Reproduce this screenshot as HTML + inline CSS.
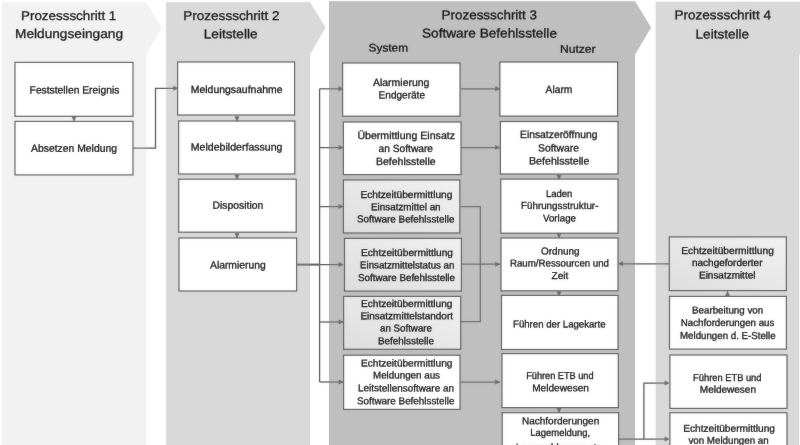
<!DOCTYPE html>
<html><head><meta charset="utf-8"><title>Prozess</title>
<style>
html,body{margin:0;padding:0;background:#fff;}
body{width:800px;height:445px;overflow:hidden;}
svg{display:block;font-family:"Liberation Sans",sans-serif;}
</style></head><body>
<svg width="800" height="445" viewBox="0 0 800 445">
<defs><filter id="bl" x="-2%" y="-2%" width="104%" height="104%"><feGaussianBlur stdDeviation="0.8"/></filter><linearGradient id="sh" x1="0" y1="1" x2="1" y2="0"><stop offset="0" stop-color="#dedede"/><stop offset="1" stop-color="#f1f1f1"/></linearGradient></defs>
<rect width="800" height="445" fill="#ffffff"/>
<g id="c" opacity="0.9999">
<path d="M2,2.5 L146.3,2.5 L162,27.6 L146.3,54.5 L146.3,455 L2,455 Z" fill="#f2f2f2"/>
<path d="M166.2,2.2 L310,2.2 L325.5,27.6 L310,54.5 L310,455 L166.2,455 Z" fill="#d9d9d9"/>
<path d="M329,1.2 L635,1.2 L651,27.6 L635,54.5 L635,455 L329,455 Z" fill="#bfbfbf"/>
<path d="M655.7,1.7 L810,1.7 L810,54.5 L799.1,54.5 L799.1,455 L655.7,455 Z" fill="#d9d9d9"/>
<path d="M133,148 L155.5,148 L155.5,88.3 L178,88.3" fill="none" stroke="#6c6c6c" stroke-width="1.25"/>
<polygon points="178.3,88.3 173.3,85.8 173.3,90.8" fill="#6c6c6c"/>
<path d="M319.6,88.8 L319.6,382" fill="none" stroke="#6c6c6c" stroke-width="1.25"/>
<path d="M319.6,88.8 L343,88.8" fill="none" stroke="#6c6c6c" stroke-width="1.25"/>
<polygon points="343.6,88.8 338.6,86.3 338.6,91.3" fill="#6c6c6c"/>
<path d="M319.6,147.6 L343,147.6" fill="none" stroke="#6c6c6c" stroke-width="1.25"/>
<polygon points="343.6,147.6 338.6,145.1 338.6,150.1" fill="#6c6c6c"/>
<path d="M319.6,206.6 L343,206.6" fill="none" stroke="#6c6c6c" stroke-width="1.25"/>
<polygon points="343.6,206.6 338.6,204.1 338.6,209.1" fill="#6c6c6c"/>
<path d="M319.6,264.6 L343,264.6" fill="none" stroke="#6c6c6c" stroke-width="1.25"/>
<polygon points="343.6,264.6 338.6,262.1 338.6,267.1" fill="#6c6c6c"/>
<path d="M319.6,322 L343,322" fill="none" stroke="#6c6c6c" stroke-width="1.25"/>
<polygon points="343.6,322 338.6,319.5 338.6,324.5" fill="#6c6c6c"/>
<path d="M319.6,382 L343,382" fill="none" stroke="#6c6c6c" stroke-width="1.25"/>
<polygon points="343.6,382 338.6,379.5 338.6,384.5" fill="#6c6c6c"/>
<path d="M296.4,264.6 L319.6,264.6" stroke="#6a6a6a" stroke-width="2" fill="none"/>
<path d="M461,88.8 L500,88.8" fill="none" stroke="#6c6c6c" stroke-width="1.25"/>
<polygon points="500.2,88.8 495.2,86.3 495.2,91.3" fill="#6c6c6c"/>
<path d="M461,147.6 L500,147.6" fill="none" stroke="#6c6c6c" stroke-width="1.25"/>
<polygon points="500.2,147.6 495.2,145.1 495.2,150.1" fill="#6c6c6c"/>
<path d="M461,206.6 L480.3,206.6 L480.3,321.6 L461,321.6" fill="none" stroke="#6c6c6c" stroke-width="1.25"/>
<path d="M461,264.2 L500,264.2" fill="none" stroke="#6c6c6c" stroke-width="1.25"/>
<polygon points="500.2,264.2 495.2,261.7 495.2,266.7" fill="#6c6c6c"/>
<path d="M461,382 L500,382" fill="none" stroke="#6c6c6c" stroke-width="1.25"/>
<polygon points="500.2,382 495.2,379.5 495.2,384.5" fill="#6c6c6c"/>
<path d="M669,263.8 L619,263.8" fill="none" stroke="#6c6c6c" stroke-width="1.25"/>
<polygon points="618,263.8 623,261.3 623,266.3" fill="#6c6c6c"/>
<path d="M618,439.1 L668,439.1" fill="none" stroke="#6c6c6c" stroke-width="1.25"/>
<polygon points="669.6,439.1 664.6,436.6 664.6,441.6" fill="#6c6c6c"/>
<path d="M643.9,439.1 L643.9,383 L668,383" fill="none" stroke="#6c6c6c" stroke-width="1.25"/>
<polygon points="669.6,383 664.6,380.5 664.6,385.5" fill="#6c6c6c"/>
<path d="M74,115.7 L74,121.2" fill="none" stroke="#6c6c6c" stroke-width="1.25"/>
<polygon points="74,121.5 71.5,116.5 76.5,116.5" fill="#6c6c6c"/>
<path d="M237,115.7 L237,121.2" fill="none" stroke="#6c6c6c" stroke-width="1.25"/>
<polygon points="237,121.5 234.5,116.5 239.5,116.5" fill="#6c6c6c"/>
<path d="M237,174.4 L237,179.6" fill="none" stroke="#6c6c6c" stroke-width="1.25"/>
<polygon points="237,179.9 234.5,174.9 239.5,174.9" fill="#6c6c6c"/>
<path d="M237,232.8 L237,238" fill="none" stroke="#6c6c6c" stroke-width="1.25"/>
<polygon points="237,238.3 234.5,233.3 239.5,233.3" fill="#6c6c6c"/>
<path d="M559,174.4 L559,179.6" fill="none" stroke="#6c6c6c" stroke-width="1.25"/>
<polygon points="559,179.9 556.5,174.9 561.5,174.9" fill="#6c6c6c"/>
<path d="M559,232.8 L559,238" fill="none" stroke="#6c6c6c" stroke-width="1.25"/>
<polygon points="559,238.3 556.5,233.3 561.5,233.3" fill="#6c6c6c"/>
<path d="M559,291.2 L559,296.2" fill="none" stroke="#6c6c6c" stroke-width="1.25"/>
<polygon points="559,296.5 556.5,291.5 561.5,291.5" fill="#6c6c6c"/>
<path d="M559,408.2 L559,412.8" fill="none" stroke="#6c6c6c" stroke-width="1.25"/>
<polygon points="559,413.1 556.5,408.1 561.5,408.1" fill="#6c6c6c"/>
<path d="M727.5,296.2 L727.5,291.2" fill="none" stroke="#6c6c6c" stroke-width="1.25"/>
<polygon points="727.5,290.9 725.0,295.9 730.0,295.9" fill="#6c6c6c"/>
<rect x="15" y="62.4" width="118" height="53.9" fill="#ffffff" stroke="#5e5e5e" stroke-width="1.2"/>
<rect x="15" y="121.4" width="118" height="53.5" fill="#ffffff" stroke="#5e5e5e" stroke-width="1.2"/>
<rect x="177.6" y="62" width="117.0" height="53" fill="#ffffff" stroke="#5e5e5e" stroke-width="1.2"/>
<rect x="178.6" y="121" width="116.2" height="53" fill="#ffffff" stroke="#5e5e5e" stroke-width="1.2"/>
<rect x="178.7" y="179.2" width="117.5" height="53.0" fill="#ffffff" stroke="#5e5e5e" stroke-width="1.2"/>
<rect x="179" y="238" width="117.6" height="53" fill="#ffffff" stroke="#5e5e5e" stroke-width="1.2"/>
<rect x="342.6" y="63" width="117.4" height="53.2" fill="#ffffff" stroke="#5e5e5e" stroke-width="1.2"/>
<rect x="343.4" y="122" width="117.6" height="52.6" fill="#ffffff" stroke="#5e5e5e" stroke-width="1.2"/>
<rect x="343.4" y="180" width="116.4" height="53" fill="url(#sh)" stroke="#5e5e5e" stroke-width="1.2"/>
<rect x="344.5" y="238.4" width="116.9" height="52.7" fill="url(#sh)" stroke="#5e5e5e" stroke-width="1.2"/>
<rect x="343.6" y="296.4" width="117.1" height="52.9" fill="url(#sh)" stroke="#5e5e5e" stroke-width="1.2"/>
<rect x="343.6" y="355.2" width="116.4" height="54.2" fill="#ffffff" stroke="#5e5e5e" stroke-width="1.2"/>
<rect x="499.9" y="62" width="117.7" height="54.1" fill="#ffffff" stroke="#5e5e5e" stroke-width="1.2"/>
<rect x="500.4" y="121.5" width="117.6" height="52.5" fill="#ffffff" stroke="#5e5e5e" stroke-width="1.2"/>
<rect x="500.8" y="179.1" width="117.2" height="54.1" fill="#ffffff" stroke="#5e5e5e" stroke-width="1.2"/>
<rect x="501" y="238" width="117" height="52.8" fill="#ffffff" stroke="#5e5e5e" stroke-width="1.2"/>
<rect x="501.5" y="295.4" width="116.5" height="54.1" fill="#ffffff" stroke="#5e5e5e" stroke-width="1.2"/>
<rect x="502" y="353.6" width="116.3" height="54.0" fill="#ffffff" stroke="#5e5e5e" stroke-width="1.2"/>
<rect x="502.2" y="412.7" width="116.4" height="57.3" fill="#ffffff" stroke="#5e5e5e" stroke-width="1.2"/>
<rect x="669.3" y="236.9" width="117.1" height="53.7" fill="url(#sh)" stroke="#5e5e5e" stroke-width="1.2"/>
<rect x="669.5" y="296.4" width="116.9" height="52.7" fill="#ffffff" stroke="#5e5e5e" stroke-width="1.2"/>
<rect x="669.9" y="355" width="117.1" height="53.4" fill="#ffffff" stroke="#5e5e5e" stroke-width="1.2"/>
<rect x="669.9" y="412.7" width="117.1" height="57.3" fill="#ffffff" stroke="#5e5e5e" stroke-width="1.2"/>
<text x="68.65" y="20" font-size="12.8" fill="#0a0a0a" stroke="#0a0a0a" stroke-width="0.3" text-anchor="middle" transform="rotate(0.03 68.65 20)" textLength="95.3" lengthAdjust="spacingAndGlyphs">Prozessschritt 1</text>
<text x="69.0" y="38" font-size="12.8" fill="#0a0a0a" stroke="#0a0a0a" stroke-width="0.3" text-anchor="middle" transform="rotate(0.03 69.0 38)" textLength="108" lengthAdjust="spacingAndGlyphs">Meldungseingang</text>
<text x="231.4" y="20" font-size="12.8" fill="#0a0a0a" stroke="#0a0a0a" stroke-width="0.3" text-anchor="middle" transform="rotate(0.03 231.4 20)" textLength="96.2" lengthAdjust="spacingAndGlyphs">Prozessschritt 2</text>
<text x="230.65" y="38.2" font-size="12.8" fill="#0a0a0a" stroke="#0a0a0a" stroke-width="0.3" text-anchor="middle" transform="rotate(0.03 230.65 38.2)" textLength="53.7" lengthAdjust="spacingAndGlyphs">Leitstelle</text>
<text x="489.3" y="19.2" font-size="12.8" fill="#0a0a0a" stroke="#0a0a0a" stroke-width="0.3" text-anchor="middle" transform="rotate(0.03 489.3 19.2)" textLength="95.4" lengthAdjust="spacingAndGlyphs">Prozessschritt 3</text>
<text x="489.5" y="37.6" font-size="12.8" fill="#0a0a0a" stroke="#0a0a0a" stroke-width="0.3" text-anchor="middle" transform="rotate(0.03 489.5 37.6)" textLength="135" lengthAdjust="spacingAndGlyphs">Software Befehlsstelle</text>
<text x="722.7" y="19.3" font-size="12.8" fill="#0a0a0a" stroke="#0a0a0a" stroke-width="0.3" text-anchor="middle" transform="rotate(0.03 722.7 19.3)" textLength="96.6" lengthAdjust="spacingAndGlyphs">Prozessschritt 4</text>
<text x="722.3" y="38.4" font-size="12.8" fill="#0a0a0a" stroke="#0a0a0a" stroke-width="0.3" text-anchor="middle" transform="rotate(0.03 722.3 38.4)" textLength="53.4" lengthAdjust="spacingAndGlyphs">Leitstelle</text>
<text x="388.3" y="51.6" font-size="11.1" fill="#0a0a0a" stroke="#0a0a0a" stroke-width="0.3" text-anchor="middle" transform="rotate(0.03 388.3 51.6)" textLength="39.4" lengthAdjust="spacingAndGlyphs">System</text>
<text x="577.8" y="52.7" font-size="11.1" fill="#0a0a0a" stroke="#0a0a0a" stroke-width="0.3" text-anchor="middle" transform="rotate(0.03 577.8 52.7)" textLength="35.6" lengthAdjust="spacingAndGlyphs">Nutzer</text>
<text x="74.5" y="93.6" font-size="10.5" fill="#0a0a0a" stroke="#0a0a0a" stroke-width="0.3" text-anchor="middle" transform="rotate(0.03 74.5 93.6)" textLength="89.8" lengthAdjust="spacingAndGlyphs">Feststellen Ereignis</text>
<text x="74.0" y="151.8" font-size="10.5" fill="#0a0a0a" stroke="#0a0a0a" stroke-width="0.3" text-anchor="middle" transform="rotate(0.03 74.0 151.8)" textLength="86" lengthAdjust="spacingAndGlyphs">Absetzen Meldung</text>
<text x="236.65" y="93.0" font-size="10.5" fill="#0a0a0a" stroke="#0a0a0a" stroke-width="0.3" text-anchor="middle" transform="rotate(0.03 236.65 93.0)" textLength="91.7" lengthAdjust="spacingAndGlyphs">Meldungsaufnahme</text>
<text x="236.65" y="150.5" font-size="10.5" fill="#0a0a0a" stroke="#0a0a0a" stroke-width="0.3" text-anchor="middle" transform="rotate(0.03 236.65 150.5)" textLength="91.7" lengthAdjust="spacingAndGlyphs">Meldebilderfassung</text>
<text x="237.9" y="208.8" font-size="10.5" fill="#0a0a0a" stroke="#0a0a0a" stroke-width="0.3" text-anchor="middle" transform="rotate(0.03 237.9 208.8)" textLength="50.8" lengthAdjust="spacingAndGlyphs">Disposition</text>
<text x="237.85" y="268.5" font-size="10.5" fill="#0a0a0a" stroke="#0a0a0a" stroke-width="0.3" text-anchor="middle" transform="rotate(0.03 237.85 268.5)" textLength="55.7" lengthAdjust="spacingAndGlyphs">Alarmierung</text>
<text x="401.2" y="86.0" font-size="10.5" fill="#0a0a0a" stroke="#0a0a0a" stroke-width="0.3" text-anchor="middle" transform="rotate(0.03 401.2 86.0)" textLength="56.4" lengthAdjust="spacingAndGlyphs">Alarmierung</text>
<text x="401.8" y="98.4" font-size="10.5" fill="#0a0a0a" stroke="#0a0a0a" stroke-width="0.3" text-anchor="middle" transform="rotate(0.03 401.8 98.4)" textLength="46.4" lengthAdjust="spacingAndGlyphs">Endgeräte</text>
<text x="406.2" y="139.0" font-size="10.5" fill="#0a0a0a" stroke="#0a0a0a" stroke-width="0.3" text-anchor="middle" transform="rotate(0.03 406.2 139.0)" textLength="97.6" lengthAdjust="spacingAndGlyphs">Übermittlung Einsatz</text>
<text x="405.8" y="152.0" font-size="10.5" fill="#0a0a0a" stroke="#0a0a0a" stroke-width="0.3" text-anchor="middle" transform="rotate(0.03 405.8 152.0)" textLength="54.4" lengthAdjust="spacingAndGlyphs">an Software</text>
<text x="405.8" y="165.0" font-size="10.5" fill="#0a0a0a" stroke="#0a0a0a" stroke-width="0.3" text-anchor="middle" transform="rotate(0.03 405.8 165.0)" textLength="59.6" lengthAdjust="spacingAndGlyphs">Befehlsstelle</text>
<text x="406.4" y="198.0" font-size="10.0" fill="#0a0a0a" stroke="#0a0a0a" stroke-width="0.3" text-anchor="middle" transform="rotate(0.03 406.4 198.0)" textLength="92.0" lengthAdjust="spacingAndGlyphs">Echtzeitübermittlung</text>
<text x="405.8" y="210.2" font-size="10.0" fill="#0a0a0a" stroke="#0a0a0a" stroke-width="0.3" text-anchor="middle" transform="rotate(0.03 405.8 210.2)" textLength="69.6" lengthAdjust="spacingAndGlyphs">Einsatzmittel an</text>
<text x="405.7" y="222.4" font-size="10.0" fill="#0a0a0a" stroke="#0a0a0a" stroke-width="0.3" text-anchor="middle" transform="rotate(0.03 405.7 222.4)" textLength="97.4" lengthAdjust="spacingAndGlyphs">Software Befehlsstelle</text>
<text x="407.0" y="256.0" font-size="10.0" fill="#0a0a0a" stroke="#0a0a0a" stroke-width="0.3" text-anchor="middle" transform="rotate(0.03 407.0 256.0)" textLength="92" lengthAdjust="spacingAndGlyphs">Echtzeitübermittlung</text>
<text x="407.2" y="268.4" font-size="10.0" fill="#0a0a0a" stroke="#0a0a0a" stroke-width="0.3" text-anchor="middle" transform="rotate(0.03 407.2 268.4)" textLength="94.4" lengthAdjust="spacingAndGlyphs">Einsatzmittelstatus an</text>
<text x="406.5" y="281.0" font-size="10.0" fill="#0a0a0a" stroke="#0a0a0a" stroke-width="0.3" text-anchor="middle" transform="rotate(0.03 406.5 281.0)" textLength="97" lengthAdjust="spacingAndGlyphs">Software Befehlsstelle</text>
<text x="406.7" y="307.0" font-size="10.0" fill="#0a0a0a" stroke="#0a0a0a" stroke-width="0.3" text-anchor="middle" transform="rotate(0.03 406.7 307.0)" textLength="91.4" lengthAdjust="spacingAndGlyphs">Echtzeitübermittlung</text>
<text x="406.7" y="319.2" font-size="10.0" fill="#0a0a0a" stroke="#0a0a0a" stroke-width="0.3" text-anchor="middle" transform="rotate(0.03 406.7 319.2)" textLength="92.6" lengthAdjust="spacingAndGlyphs">Einsatzmittelstandort</text>
<text x="406.0" y="331.6" font-size="10.0" fill="#0a0a0a" stroke="#0a0a0a" stroke-width="0.3" text-anchor="middle" transform="rotate(0.03 406.0 331.6)" textLength="52" lengthAdjust="spacingAndGlyphs">an Software</text>
<text x="406.0" y="344.2" font-size="10.0" fill="#0a0a0a" stroke="#0a0a0a" stroke-width="0.3" text-anchor="middle" transform="rotate(0.03 406.0 344.2)" textLength="56" lengthAdjust="spacingAndGlyphs">Befehlsstelle</text>
<text x="406.7" y="366.6" font-size="10.0" fill="#0a0a0a" stroke="#0a0a0a" stroke-width="0.3" text-anchor="middle" transform="rotate(0.03 406.7 366.6)" textLength="91.4" lengthAdjust="spacingAndGlyphs">Echtzeitübermittlung</text>
<text x="406.5" y="378.6" font-size="10.0" fill="#0a0a0a" stroke="#0a0a0a" stroke-width="0.3" text-anchor="middle" transform="rotate(0.03 406.5 378.6)" textLength="67" lengthAdjust="spacingAndGlyphs">Meldungen aus</text>
<text x="406.0" y="391.4" font-size="10.0" fill="#0a0a0a" stroke="#0a0a0a" stroke-width="0.3" text-anchor="middle" transform="rotate(0.03 406.0 391.4)" textLength="96" lengthAdjust="spacingAndGlyphs">Leitstellensoftware an</text>
<text x="405.7" y="404.2" font-size="10.0" fill="#0a0a0a" stroke="#0a0a0a" stroke-width="0.3" text-anchor="middle" transform="rotate(0.03 405.7 404.2)" textLength="97.4" lengthAdjust="spacingAndGlyphs">Software Befehlsstelle</text>
<text x="559.0" y="93.0" font-size="10.5" fill="#0a0a0a" stroke="#0a0a0a" stroke-width="0.3" text-anchor="middle" transform="rotate(0.03 559.0 93.0)" textLength="26.8" lengthAdjust="spacingAndGlyphs">Alarm</text>
<text x="558.7" y="138.0" font-size="10.5" fill="#0a0a0a" stroke="#0a0a0a" stroke-width="0.3" text-anchor="middle" transform="rotate(0.03 558.7 138.0)" textLength="77.4" lengthAdjust="spacingAndGlyphs">Einsatzeröffnung</text>
<text x="558.5" y="151.4" font-size="10.5" fill="#0a0a0a" stroke="#0a0a0a" stroke-width="0.3" text-anchor="middle" transform="rotate(0.03 558.5 151.4)" textLength="41" lengthAdjust="spacingAndGlyphs">Software</text>
<text x="559.2" y="164.4" font-size="10.5" fill="#0a0a0a" stroke="#0a0a0a" stroke-width="0.3" text-anchor="middle" transform="rotate(0.03 559.2 164.4)" textLength="60.4" lengthAdjust="spacingAndGlyphs">Befehlsstelle</text>
<text x="559.2" y="197.0" font-size="10.0" fill="#0a0a0a" stroke="#0a0a0a" stroke-width="0.3" text-anchor="middle" transform="rotate(0.03 559.2 197.0)" textLength="26.4" lengthAdjust="spacingAndGlyphs">Laden</text>
<text x="559.7" y="208.9" font-size="10.0" fill="#0a0a0a" stroke="#0a0a0a" stroke-width="0.3" text-anchor="middle" transform="rotate(0.03 559.7 208.9)" textLength="77.4" lengthAdjust="spacingAndGlyphs">Führungsstruktur-</text>
<text x="559.5" y="221.6" font-size="10.0" fill="#0a0a0a" stroke="#0a0a0a" stroke-width="0.3" text-anchor="middle" transform="rotate(0.03 559.5 221.6)" textLength="33" lengthAdjust="spacingAndGlyphs">Vorlage</text>
<text x="560.3" y="254.4" font-size="10.0" fill="#0a0a0a" stroke="#0a0a0a" stroke-width="0.3" text-anchor="middle" transform="rotate(0.03 560.3 254.4)" textLength="38.6" lengthAdjust="spacingAndGlyphs">Ordnung</text>
<text x="559.5" y="266.6" font-size="10.0" fill="#0a0a0a" stroke="#0a0a0a" stroke-width="0.3" text-anchor="middle" transform="rotate(0.03 559.5 266.6)" textLength="99" lengthAdjust="spacingAndGlyphs">Raum/Ressourcen und</text>
<text x="560.0" y="279.0" font-size="10.0" fill="#0a0a0a" stroke="#0a0a0a" stroke-width="0.3" text-anchor="middle" transform="rotate(0.03 560.0 279.0)" textLength="16.8" lengthAdjust="spacingAndGlyphs">Zeit</text>
<text x="559.3" y="327.4" font-size="10.0" fill="#0a0a0a" stroke="#0a0a0a" stroke-width="0.3" text-anchor="middle" transform="rotate(0.03 559.3 327.4)" textLength="92.6" lengthAdjust="spacingAndGlyphs">Führen der Lagekarte</text>
<text x="559.9000000000001" y="379.0" font-size="10.0" fill="#0a0a0a" stroke="#0a0a0a" stroke-width="0.3" text-anchor="middle" transform="rotate(0.03 559.9000000000001 379.0)" textLength="67.4" lengthAdjust="spacingAndGlyphs">Führen ETB und</text>
<text x="560.6" y="391.2" font-size="10.0" fill="#0a0a0a" stroke="#0a0a0a" stroke-width="0.3" text-anchor="middle" transform="rotate(0.03 560.6 391.2)" textLength="56.8" lengthAdjust="spacingAndGlyphs">Meldewesen</text>
<text x="560.6" y="424.2" font-size="10.0" fill="#0a0a0a" stroke="#0a0a0a" stroke-width="0.3" text-anchor="middle" transform="rotate(0.03 560.6 424.2)" textLength="77.2" lengthAdjust="spacingAndGlyphs">Nachforderungen</text>
<text x="560.2" y="435.9" font-size="10.0" fill="#0a0a0a" stroke="#0a0a0a" stroke-width="0.3" text-anchor="middle" transform="rotate(0.03 560.2 435.9)" textLength="60.0" lengthAdjust="spacingAndGlyphs">Lagemeldung,</text>
<text x="560.0" y="450.6" font-size="10.0" fill="#0a0a0a" stroke="#0a0a0a" stroke-width="0.3" text-anchor="middle" transform="rotate(0.03 560.0 450.6)" textLength="88" lengthAdjust="spacingAndGlyphs">Lagemeldungen etc.</text>
<text x="727.5999999999999" y="254.0" font-size="10.0" fill="#0a0a0a" stroke="#0a0a0a" stroke-width="0.3" text-anchor="middle" transform="rotate(0.03 727.5999999999999 254.0)" textLength="92.6" lengthAdjust="spacingAndGlyphs">Echtzeitübermittlung</text>
<text x="727.25" y="266.0" font-size="10.0" fill="#0a0a0a" stroke="#0a0a0a" stroke-width="0.3" text-anchor="middle" transform="rotate(0.03 727.25 266.0)" textLength="70.5" lengthAdjust="spacingAndGlyphs">nachgeforderter</text>
<text x="727.2" y="278.4" font-size="10.0" fill="#0a0a0a" stroke="#0a0a0a" stroke-width="0.3" text-anchor="middle" transform="rotate(0.03 727.2 278.4)" textLength="56.4" lengthAdjust="spacingAndGlyphs">Einsatzmittel</text>
<text x="727.6" y="313.5" font-size="10.0" fill="#0a0a0a" stroke="#0a0a0a" stroke-width="0.3" text-anchor="middle" transform="rotate(0.03 727.6 313.5)" textLength="71.2" lengthAdjust="spacingAndGlyphs">Bearbeitung von</text>
<text x="727.5999999999999" y="326.1" font-size="10.0" fill="#0a0a0a" stroke="#0a0a0a" stroke-width="0.3" text-anchor="middle" transform="rotate(0.03 727.5999999999999 326.1)" textLength="93.6" lengthAdjust="spacingAndGlyphs">Nachforderungen aus</text>
<text x="727.8" y="338.9" font-size="10.0" fill="#0a0a0a" stroke="#0a0a0a" stroke-width="0.3" text-anchor="middle" transform="rotate(0.03 727.8 338.9)" textLength="95.6" lengthAdjust="spacingAndGlyphs">Meldungen d. E-Stelle</text>
<text x="727.3" y="380.7" font-size="10.0" fill="#0a0a0a" stroke="#0a0a0a" stroke-width="0.3" text-anchor="middle" transform="rotate(0.03 727.3 380.7)" textLength="68.4" lengthAdjust="spacingAndGlyphs">Führen ETB und</text>
<text x="727.9" y="392.7" font-size="10.0" fill="#0a0a0a" stroke="#0a0a0a" stroke-width="0.3" text-anchor="middle" transform="rotate(0.03 727.9 392.7)" textLength="56.2" lengthAdjust="spacingAndGlyphs">Meldewesen</text>
<text x="729.1" y="431.7" font-size="10.0" fill="#0a0a0a" stroke="#0a0a0a" stroke-width="0.3" text-anchor="middle" transform="rotate(0.03 729.1 431.7)" textLength="91.8" lengthAdjust="spacingAndGlyphs">Echtzeitübermittlung</text>
<text x="728.55" y="443.8" font-size="10.0" fill="#0a0a0a" stroke="#0a0a0a" stroke-width="0.3" text-anchor="middle" transform="rotate(0.03 728.55 443.8)" textLength="80.3" lengthAdjust="spacingAndGlyphs">von Meldungen an</text>
</g>
<use href="#c" filter="url(#bl)" opacity="0.25"/>
</svg>
</body></html>
